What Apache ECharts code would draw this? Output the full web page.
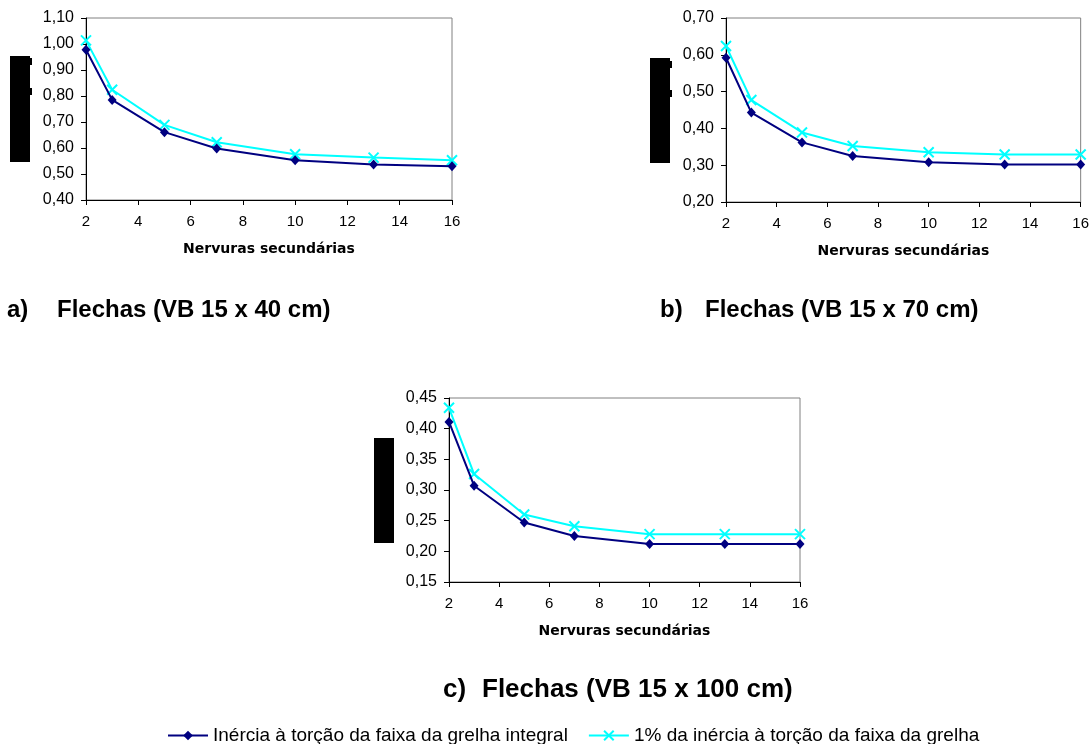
<!DOCTYPE html>
<html>
<head>
<meta charset="utf-8">
<script src="https://cdn.jsdelivr.net/npm/echarts@6/dist/echarts.min.js"></script>
<style>
html,body{margin:0;padding:0;background:#fff;}
#c{width:1092px;height:744px;}
</style>
</head>
<body>
<div id="c"></div>
<script>
// ---- data ----
const nervuras = [2, 3, 5, 7, 10, 13, 16];
const seriesNames = ['Inércia à torção da faixa da grelha integral', '1% da inércia à torção da faixa da grelha'];
const a_integral = [0.978, 0.785, 0.661, 0.598, 0.553, 0.537, 0.530];
const a_1pct     = [1.014, 0.824, 0.689, 0.622, 0.576, 0.563, 0.553];
const b_integral = [0.592, 0.443, 0.362, 0.325, 0.308, 0.302, 0.302];
const b_1pct     = [0.624, 0.477, 0.389, 0.352, 0.335, 0.329, 0.329];
const c_integral = [0.411, 0.307, 0.247, 0.225, 0.212, 0.212, 0.212];
const c_1pct     = [0.434, 0.326, 0.260, 0.241, 0.228, 0.228, 0.228];
const xAxisTitle = 'Nervuras secundárias';
const captions = [
  ['a)', 'Flechas (VB 15 x 40 cm)'],
  ['b)', 'Flechas (VB 15 x 70 cm)'],
  ['c)', 'Flechas (VB 15 x 100 cm)']
];
const yRanges = [[0.40, 1.10, 0.10], [0.20, 0.70, 0.10], [0.15, 0.45, 0.05]];

// ---- build ----
const NAVY = '#000080', CYAN = '#00FFFF';
const font = "'Liberation Sans', Arial, sans-serif";
const grids = [
  {left: 86, top: 18, width: 366, height: 182},
  {left: 726, top: 18, width: 360, height: 184},
  {left: 449, top: 398, width: 351, height: 184}
];
const dataSets = [[a_integral, a_1pct], [b_integral, b_1pct], [c_integral, c_1pct]];

function pairs(ys) { return nervuras.map((x, i) => [x, ys[i]]); }

const option = {
  animation: false,
  backgroundColor: '#fff',
  grid: grids.map(g => Object.assign({show: true, borderColor: '#808080', borderWidth: 1, backgroundColor: 'transparent'}, g)),
  xAxis: grids.map((g, i) => ({
    type: 'value', gridIndex: i, min: 2, max: 16, interval: 2,
    name: xAxisTitle, nameLocation: 'middle', nameGap: 42,
    nameTextStyle: {fontFamily: "'DejaVu Sans', sans-serif", fontWeight: 'bold', fontSize: 14, color: '#000'},
    axisLine: {show: true, onZero: false, lineStyle: {color: '#000', width: 1}},
    axisTick: {show: true, inside: false, length: 5, lineStyle: {color: '#000'}},
    axisLabel: {color: '#000', fontFamily: font, fontSize: 15, margin: 14},
    splitLine: {show: false}
  })),
  yAxis: grids.map((g, i) => ({
    type: 'value', gridIndex: i, min: yRanges[i][0], max: yRanges[i][1], interval: yRanges[i][2],
    axisLine: {show: true, onZero: false, lineStyle: {color: '#000', width: 1}},
    axisTick: {show: true, inside: false, length: 5, lineStyle: {color: '#000'}},
    axisLabel: {color: '#000', fontFamily: font, fontSize: 16, margin: 12,
      formatter: v => v.toFixed(2).replace('.', ',')},
    splitLine: {show: false}
  })),
  legend: {
    left: 162, top: 721,
    itemWidth: 40, itemHeight: 12, itemGap: 20,
    textStyle: {fontFamily: font, fontSize: 19, color: '#000'},
    data: seriesNames
  },
  series: [],
  graphic: []
};

dataSets.forEach((ds, i) => {
  option.series.push({
    name: seriesNames[0], type: 'line', xAxisIndex: i, yAxisIndex: i,
    data: pairs(ds[0]),
    symbol: 'diamond', symbolSize: [9, 10],
    lineStyle: {color: NAVY, width: 2},
    itemStyle: {color: NAVY, borderColor: NAVY, borderWidth: 0},
    z: 3
  });
  option.series.push({
    name: seriesNames[1], type: 'line', xAxisIndex: i, yAxisIndex: i,
    data: pairs(ds[1]),
    symbol: 'path://M0,0L10,10M10,0L0,10', symbolSize: 10,
    lineStyle: {color: CYAN, width: 2},
    itemStyle: {color: 'rgba(0,0,0,0)', borderColor: CYAN, borderWidth: 2},
    z: 2
  });
});

// black boxes (redacted y-axis titles)
const boxes = [
  [10, 56, 20, 106], [30, 58, 2, 7], [30, 88, 2, 7],
  [650, 58, 20, 105], [670, 61, 2, 7], [670, 90, 2, 7],
  [374, 438, 20, 105]
];
boxes.forEach(b => option.graphic.push({type: 'rect', shape: {x: b[0], y: b[1], width: b[2], height: b[3]}, style: {fill: '#000'}, silent: true}));

// captions: [label x, title x, y, font size]
const capPos = [[7, 57, 310, 24], [660, 705, 310, 24], [443, 482, 690, 26]];
captions.forEach((c, i) => {
  const p = capPos[i];
  const st = {fill: '#000', font: "bold " + p[3] + "px 'Liberation Sans', Arial, sans-serif", textVerticalAlign: 'middle'};
  option.graphic.push({type: 'text', x: p[0], y: p[2], style: Object.assign({text: c[0]}, st)});
  option.graphic.push({type: 'text', x: p[1], y: p[2], style: Object.assign({text: c[1]}, st)});
});

const chart = echarts.init(document.getElementById('c'), null, {renderer: 'canvas'});
chart.setOption(option);
</script>
</body>
</html>
